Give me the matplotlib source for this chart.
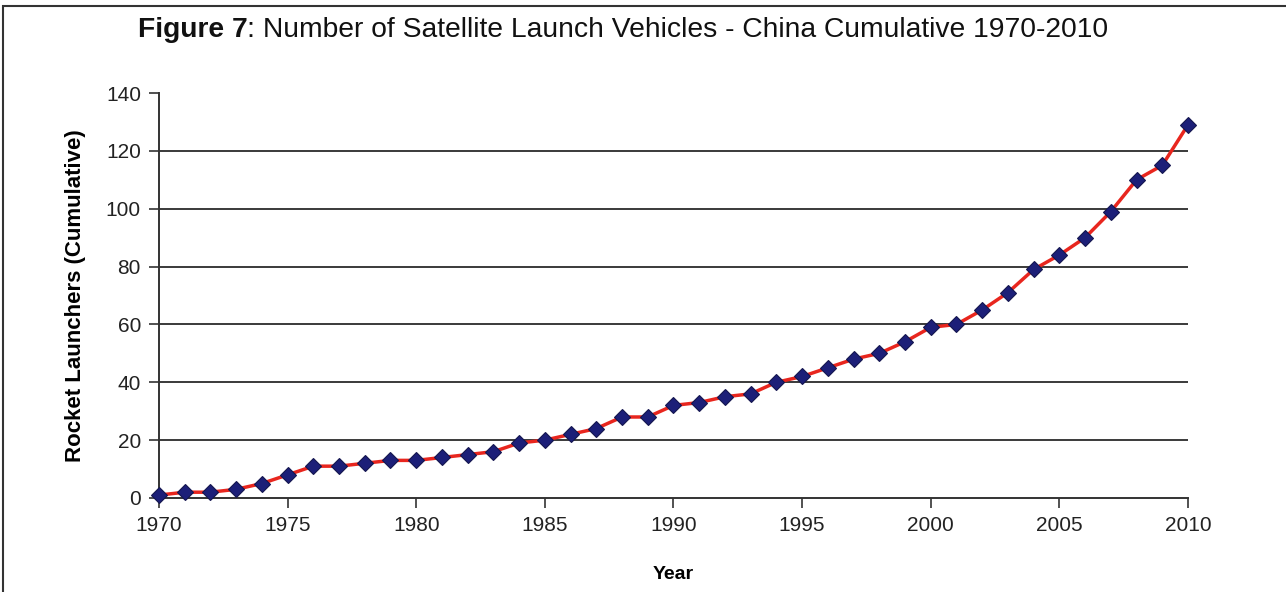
import matplotlib
matplotlib.use('Agg')
import matplotlib.pyplot as plt
from matplotlib.patches import Rectangle

plt.rcParams['font.family'] = ['Liberation Sans', 'DejaVu Sans']

years = list(range(1970, 2011))
launchers = [1, 2, 2, 3, 5, 8, 11, 11, 12, 13,
             13, 14, 15, 16, 19, 20, 22, 24, 28, 28,
             32, 33, 35, 36, 40, 42, 45, 48, 50, 54,
             59, 60, 65, 71, 79, 84, 90, 99, 110, 115,
             129]
x_ticks = [1970, 1975, 1980, 1985, 1990, 1995, 2000, 2005, 2010]
y_ticks = [0, 20, 40, 60, 80, 100, 120, 140]

fig = plt.figure(figsize=(12.86, 5.92), dpi=100)
ax = fig.add_axes([0.1236, 0.1588, 0.8002, 0.6841])

# frame round the figure (only top and left show in the original)
fig.patches.append(Rectangle((0.0025, -0.05), 1.1, 1.04, transform=fig.transFigure,
                             fill=False, edgecolor='#333333', linewidth=1.5))

for y in y_ticks[1:-1]:
    ax.axhline(y, color='#3a3a3a', linewidth=1.4, zorder=1)

ax.plot(years, launchers, color='#e8261e', linewidth=2.5, zorder=2, clip_on=False)
ax.plot(years, launchers, linestyle='none', marker='D', markersize=8.5,
        markerfacecolor='#1c1f78', markeredgecolor='#14164f', markeredgewidth=0.8,
        zorder=3, clip_on=False)

ax.set_xlim(1970, 2010)
ax.set_ylim(0, 140)
ax.set_xticks(x_ticks)
ax.set_yticks(y_ticks)
ax.tick_params(labelsize=15, length=7, width=1.2, color='#333333', labelcolor='#222222', pad=6)

for s in ['top', 'right']:
    ax.spines[s].set_visible(False)
for s in ['left', 'bottom']:
    ax.spines[s].set_color('#333333')
    ax.spines[s].set_linewidth(1.4)
ax.patch.set_alpha(0)

ax.set_xlabel('Year', fontsize=14, fontweight='bold', labelpad=22)
ax.set_ylabel('Rocket Launchers (Cumulative)', fontsize=16, fontweight='bold', labelpad=14)

# title: bold "Figure 7" followed by plain text, centred as a whole
ty = 0.938
t1 = fig.text(0, ty, 'Figure 7', fontsize=20.3, fontweight='bold', ha='left', va='baseline', color='#111111')
t2 = fig.text(0, ty, ': Number of Satellite Launch Vehicles - China Cumulative 1970-2010',
              fontsize=20.3, ha='left', va='baseline', color='#111111')
fig.canvas.draw()
r = fig.canvas.get_renderer()
w1 = t1.get_window_extent(r).width
w2 = t2.get_window_extent(r).width
x0 = 623 - (w1 + w2) / 2
t1.set_x(x0 / 1286)
t2.set_x((x0 + w1) / 1286)

fig.savefig('out.png', dpi=100)
